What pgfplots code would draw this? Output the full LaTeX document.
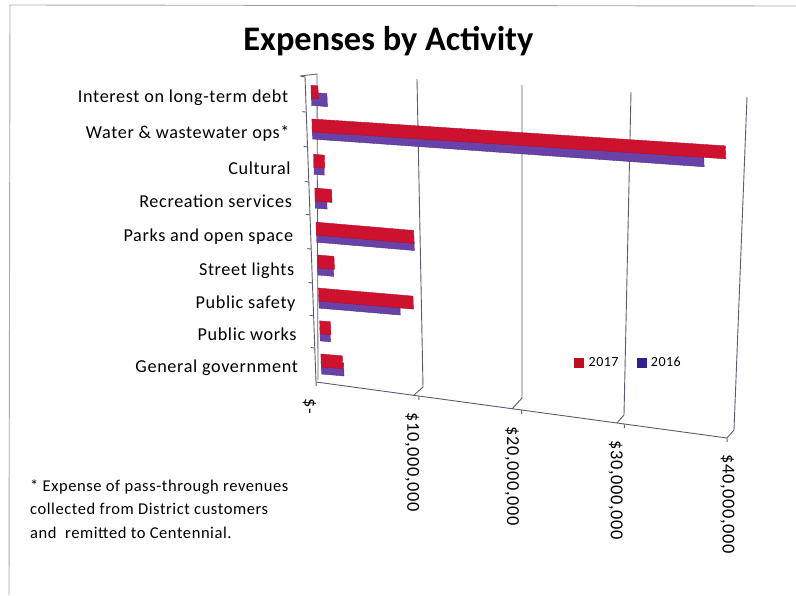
\documentclass[border=0pt]{standalone}
\usepackage{pgfplots}
\pgfplotsset{compat=1.18}
\usepackage{pgfplotstable}
\usepackage{fontspec}
\setmainfont{Carlito}
\newfontfamily\lab[LetterSpace=3.5]{Carlito}
\definecolor{redbar}{RGB}{205,18,48}
\definecolor{bluebar}{RGB}{104,66,168}
\definecolor{redleg}{RGB}{190,14,30}
\definecolor{blueleg}{RGB}{52,30,140}
\definecolor{gridc}{RGB}{90,90,115}
\newcommand{\tl}[2]{\raisebox{#1}[12pt][3pt]{#2}}
% each bar is an outline: value in millions of dollars, row position
\pgfplotstableread{
v y
0 -0.2965
2.2 -0.2965
2.2 0.0885
0 0.0885
nan nan
0 0.6835
1.0 0.6835
1.0 1.0685
0 1.0685
nan nan
0 1.6535
7.9 1.6535
7.9 2.0385
0 2.0385
nan nan
0 2.6335
1.55 2.6335
1.55 3.0185
0 3.0185
nan nan
0 3.6035
9.5 3.6035
9.5 3.9885
0 3.9885
nan nan
0 4.6135
1.15 4.6135
1.15 4.9985
0 4.9985
nan nan
0 5.6135
1.0 5.6135
1.0 5.9985
0 5.9985
nan nan
0 7.6535
1.55 7.6535
1.55 8.0385
0 8.0385
}\blueshort
\pgfplotstableread{
v y
0 -0.0885
2.1 -0.0885
2.1 0.2965
0 0.2965
nan nan
0 0.8915
1.07 0.8915
1.07 1.2765
0 1.2765
nan nan
0 1.8615
9.2 1.8615
9.2 2.2465
0 2.2465
nan nan
0 2.8415
1.65 2.8415
1.65 3.2265
0 3.2265
nan nan
0 3.8115
9.5 3.8115
9.5 4.1965
0 4.1965
nan nan
0 4.8215
1.65 4.8215
1.65 5.2065
0 5.2065
nan nan
0 5.8215
1.07 5.8215
1.07 6.2065
0 6.2065
nan nan
0 7.8615
0.7 7.8615
0.7 8.2465
0 8.2465
}\redshort
\pgfplotstableread{
v y
0 -0.2965
37.3 -0.365
37.3 0.0885
0 0.0885
}\bluewater
\pgfplotstableread{
v y
0 -0.0885
39.4 -0.0885
39.4 0.2965
0 0.2965
}\redwater
\pgfplotsset{barax/.style={
  anchor=origin, hide axis, clip=false,
  xmin=0, xmax=40, ymin=0, ymax=9,
  unbounded coords=jump,
}}
\begin{document}
\begin{tikzpicture}
\path[use as bounding box] (0,0) rectangle (796pt,595pt);
% page axis in image pixels: title, notes, walls, legend
\begin{axis}[
  at={(0pt,0pt)}, anchor=south west, scale only axis, width=796pt, height=595pt,
  xmin=0, xmax=796, ymin=0, ymax=595, y dir=reverse, hide axis, clip=false,
  title={\bfseries\fontsize{34.4}{38}\selectfont Expenses by Activity},
  title style={at={(0.488,0.921)},anchor=center,inner sep=0pt},
  legend columns=2,
  legend style={at={(axis description cs:0.7175,0.39)},anchor=west,draw=none,fill=none,
    font=\lab\fontsize{14}{16}\selectfont,/tikz/every even column/.append style={column sep=16pt}},
  legend image code/.code={\fill[#1] (0pt,-4.5pt) rectangle (9pt,4.5pt); \path (12pt,0pt);},
]
\addlegendimage{redleg}\addlegendentry{2017}
\addlegendimage{blueleg}\addlegendentry{2016}
\addplot[gridc,line width=0.8pt,forget plot] coordinates {(300,76)(317,74)(318,380)};
\addplot[gridc,line width=0.9pt,forget plot] coordinates {(413,396)(423,387)(417,79)};
\addplot[gridc,line width=0.9pt,forget plot] coordinates {(512,409)(522,398)(522,85)};
\addplot[gridc,line width=0.9pt,forget plot] coordinates {(617,423)(624,415)(631,92)};
\addplot[gridc,line width=0.9pt,forget plot] coordinates {(727,438)(734,430)(747,97)};
\addplot[gray!70,line width=0.9pt,forget plot] coordinates {(9,595)(10,5)(796,6)};
\node[anchor=west,inner sep=0pt,align=left,font=\lab\fontsize{16.5}{23.5}\selectfont] at (axis cs:30,509)
 {* Expense of pass-through revenues\\ collected from District customers\\ and\ \ remitted to Centennial.};
\end{axis}
% front frame, ticks and labels
\begin{axis}[
  at={(316pt,213pt)}, anchor=origin, clip=false,
  x={(10.275pt,-1.4pt)}, y={(-1.22pt,33.9pt)},
  xmin=0, xmax=40, ymin=0, ymax=9,
  axis x line=bottom, axis y line=left,
  axis line style={gridc,line width=0.9pt,-},
  tick style={gridc,line width=0.9pt},
  tick align=outside, major tick length=4pt,
  xtick={0,10,20,30,40},
  xticklabels={{\tl{0pt}{\$-}},{\tl{0pt}{\$10,000,000}},{\tl{-3pt}{\$20,000,000}},{\tl{-2pt}{\$30,000,000}},{\tl{7pt}{\$40,000,000}}},
  xticklabel style={rotate=-90,anchor=west,font=\lab\fontsize{18.3}{20}\selectfont,xshift=9pt,yshift=-7pt},
  ytick={1,1.95,2.92,3.92,4.93,5.9,6.93,7.96,9},
  yticklabels={},
  extra y ticks={0.5,1.5,2.41,3.38,4.38,5.41,6.38,7.41,8.47},
  extra y tick labels={General government,Public works,Public safety,Street lights,Parks and open space,Recreation services,Cultural,Water \& wastewater ops*,Interest on long-term debt},
  extra y tick style={major tick length=0pt,yticklabel style={anchor=east,font=\lab\fontsize{18.2}{20}\selectfont,xshift=-14pt,yshift=-3pt}},
]
\end{axis}
% short bars
\begin{axis}[barax, at={(321pt,231pt)},
  x={(10.3pt,-0.875pt)}, y={(-1.25pt,33.8pt)}]
\addplot[draw=bluebar!70!black,fill=bluebar] table[x=v,y=y] {\blueshort};
\addplot[draw=redbar!85!black,fill=redbar] table[x=v,y=y] {\redshort};
\end{axis}
% long bar, which runs at a flatter slope
\begin{axis}[barax, at={(312pt,466pt)},
  x={(10.5pt,-0.682pt)}, y={(-1.25pt,33.8pt)}]
\addplot[draw=bluebar!70!black,fill=bluebar] table[x=v,y=y] {\bluewater};
\addplot[draw=redbar!85!black,fill=redbar] table[x=v,y=y] {\redwater};
\end{axis}
\end{tikzpicture}
\end{document}
